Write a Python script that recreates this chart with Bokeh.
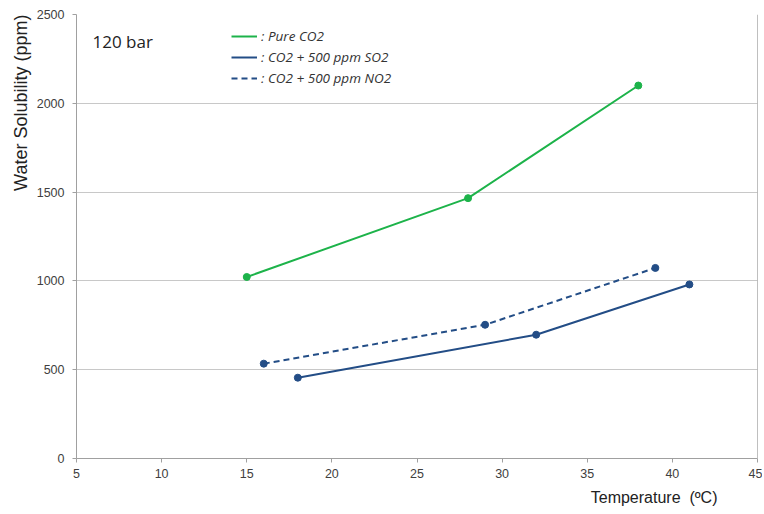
from bokeh.plotting import figure
from bokeh.models import Label, Legend, LegendItem, FixedTicker, Range1d, Title
from bokeh.embed import file_html
from bokeh.resources import INLINE

pure_t = [15, 28, 38]
pure_s = [1022, 1466, 2100]
so2_t = [18, 32, 41]
so2_s = [455, 697, 980]
no2_t = [16, 29, 39]
no2_s = [534, 753, 1073]

x_ticks = [5, 10, 15, 20, 25, 30, 35, 40, 45]
y_ticks = [0, 500, 1000, 1500, 2000, 2500]

GREEN = "#1db34a"
BLUE = "#234d86"
FONT = "Liberation Sans"

p = figure(width=762, height=512, output_backend="svg", toolbar_location=None,
           x_range=Range1d(5, 45), y_range=Range1d(0, 2500),
           min_border_left=76, min_border_right=5, min_border_top=14, min_border_bottom=53)
p.outline_line_color = None
p.background_fill_color = "white"
p.border_fill_color = "white"

p.xgrid.visible = False
p.ygrid.ticker = FixedTicker(ticks=y_ticks)
p.ygrid.grid_line_color = "#c8c8c8"
p.ygrid.grid_line_width = 1

for ax, ticks in ((p.xaxis, x_ticks), (p.yaxis, y_ticks)):
    ax.ticker = FixedTicker(ticks=ticks)
    ax.axis_line_color = "#a0a0a0"
    ax.major_tick_line_color = "#a0a0a0"
    ax.major_tick_out = 4
    ax.major_tick_in = 0
    ax.minor_tick_line_color = None
    ax.major_label_text_font = FONT
    ax.major_label_text_font_size = "12.5px"
    ax.major_label_text_color = "#404040"
p.xaxis.major_label_standoff = 6
p.yaxis.major_label_standoff = 8

# right border line
p.line(x=[45, 45], y=[0, 2500], line_color="#808080", line_width=1)

r_pure = p.line(pure_t, pure_s, line_color=GREEN, line_width=2)
p.scatter(pure_t, pure_s, size=7, color=GREEN)
r_so2 = p.line(so2_t, so2_s, line_color=BLUE, line_width=2)
p.scatter(so2_t, so2_s, size=7, color=BLUE)
r_no2 = p.line(no2_t, no2_s, line_color=BLUE, line_width=2, line_dash="6 4")
p.scatter(no2_t, no2_s, size=7, color=BLUE)

legend = Legend(items=[
    LegendItem(label=": Pure CO2", renderers=[r_pure]),
    LegendItem(label=": CO2 + 500 ppm SO2", renderers=[r_so2]),
    LegendItem(label=": CO2 + 500 ppm NO2", renderers=[r_no2]),
], location=(155, 371), orientation="vertical")
legend.label_text_font = "Open Sans"
legend.label_text_font_style = "italic"
legend.label_text_font_size = "13.5px"
legend.label_text_color = "#333333"
legend.glyph_width = 26
legend.glyph_height = 14
legend.label_height = 14
legend.spacing = 3
legend.label_standoff = 4
legend.padding = 2
legend.margin = 0
legend.border_line_color = None
legend.background_fill_alpha = 0
p.add_layout(legend, "center")

p.add_layout(Label(x=5.94, y=2350, text="120 bar", text_font="Open Sans",
                   text_font_size="17px", text_color="#222222",
                   text_baseline="middle"))

xt = Title(text="Temperature\u00a0 (ºC)", align="right", offset=40, text_font=FONT,
           text_font_size="16px", text_color="#222222", text_font_style="normal",
           standoff=13)
p.add_layout(xt, "below")
yt = Title(text="Water Solubility (ppm)", align="right", offset=0, text_font=FONT,
           text_font_size="18px", text_color="#222222", text_font_style="normal",
           standoff=6)
p.add_layout(yt, "left")

open("out.html", "w").write(file_html(p, INLINE))
